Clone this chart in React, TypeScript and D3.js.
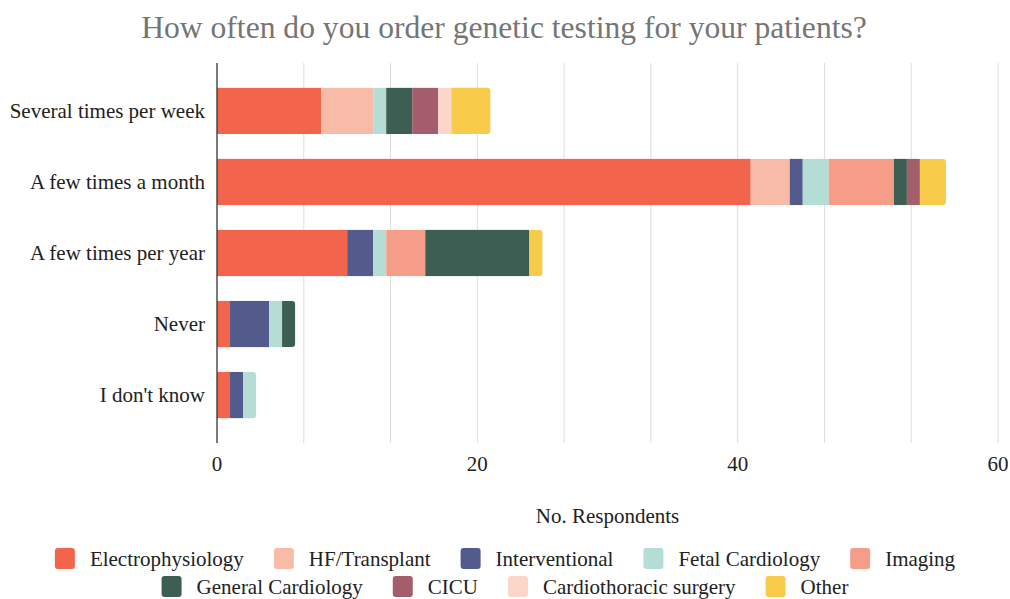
import * as d3 from "d3";
import { useRef, useEffect } from "react";

const categories = [
  "Several times per week",
  "A few times a month",
  "A few times per year",
  "Never",
  "I don't know",
];

const seriesNames = [
  "Electrophysiology",
  "HF/Transplant",
  "Interventional",
  "Fetal Cardiology",
  "Imaging",
  "General Cardiology",
  "CICU",
  "Cardiothoracic surgery",
  "Other",
];

const seriesColors = [
  "#f2644b",
  "#f8bba8",
  "#535b8d",
  "#b4ddd6",
  "#f69d8a",
  "#3d5e52",
  "#a45e6b",
  "#fbd6c9",
  "#f9cb4a",
];

// one array per specialty, in the order of the categories
const electrophysiology = [8, 41, 10, 1, 1];
const hfTransplant = [4, 3, 0, 0, 0];
const interventional = [0, 1, 2, 3, 1];
const fetalCardiology = [1, 2, 1, 1, 1];
const imaging = [0, 5, 3, 0, 0];
const generalCardiology = [2, 1, 8, 1, 0];
const cicu = [2, 1, 0, 0, 0];
const cardiothoracic = [1, 0, 0, 0, 0];
const other = [3, 2, 1, 0, 0];

const seriesValues = [
  electrophysiology,
  hfTransplant,
  interventional,
  fetalCardiology,
  imaging,
  generalCardiology,
  cicu,
  cardiothoracic,
  other,
];

const tickLabels = [0, 20, 40, 60];

const W = 1010;
const H = 599;
const FONT = "Liberation Serif, DejaVu Serif, serif";

const App = () => {
  const ref = useRef(null);

  useEffect(() => {
    const svg = d3.select(ref.current);
    svg.selectAll("*").remove();

    const margin = { top: 63, left: 217, right: 12, bottom: 156 };
    const x = d3.scaleLinear().domain([0, 60]).range([margin.left, W - margin.right]);
    const y = d3
      .scaleBand()
      .domain(categories)
      .range([margin.top, H - margin.bottom])
      .padding(0.35);

    const txt = (sel: any, size: number, fill: string) =>
      sel.style("font-family", FONT).style("font-size", size + "px").attr("fill", fill);

    // title
    txt(
      svg.append("text")
        .attr("x", W / 2 - 1)
        .attr("y", 38)
        .attr("text-anchor", "middle"),
      31.6,
      "#757575"
    ).text("How often do you order genetic testing for your patients?");

    // gridlines
    const grid = d3.range(1, 10).map((i) => (i * 60) / 9);
    svg.append("g")
      .selectAll("line")
      .data(grid)
      .enter()
      .append("line")
      .attr("x1", (d) => x(d))
      .attr("x2", (d) => x(d))
      .attr("y1", margin.top)
      .attr("y2", H - margin.bottom)
      .attr("stroke", "#dedede")
      .attr("stroke-width", 1);

    // stacked bars
    const rows = categories.map((c, i) => {
      const r: any = { cat: c };
      seriesNames.forEach((s, j) => (r[s] = seriesValues[j][i]));
      return r;
    });
    const stacked = d3.stack().keys(seriesNames)(rows);

    const lastIdx = categories.map((_, i) => {
      let last = -1;
      seriesValues.forEach((v, j) => {
        if (v[i] > 0) last = j;
      });
      return last;
    });

    const bh = y.bandwidth();
    stacked.forEach((layer, j) => {
      const g = svg.append("g").attr("fill", seriesColors[j]);
      layer.forEach((d, i) => {
        if (d[1] - d[0] <= 0) return;
        const x0 = x(d[0]);
        const x1 = x(d[1]);
        const y0 = y(categories[i]);
        if (lastIdx[i] === j) {
          const r = 3;
          g.append("path").attr(
            "d",
            `M${x0},${y0}H${x1 - r}Q${x1},${y0} ${x1},${y0 + r}V${y0 + bh - r}Q${x1},${y0 + bh} ${x1 - r},${y0 + bh}H${x0}Z`
          );
        } else {
          g.append("rect")
            .attr("x", x0)
            .attr("y", y0)
            .attr("width", x1 - x0)
            .attr("height", bh);
        }
      });
    });

    // zero axis
    svg.append("line")
      .attr("x1", x(0))
      .attr("x2", x(0))
      .attr("y1", margin.top)
      .attr("y2", H - margin.bottom)
      .attr("stroke", "#333")
      .attr("stroke-width", 1.3);

    // category labels
    txt(
      svg.append("g")
        .selectAll("text")
        .data(categories)
        .enter()
        .append("text")
        .attr("x", margin.left - 12)
        .attr("y", (d) => y(d) + bh / 2)
        .attr("dy", "0.35em")
        .attr("text-anchor", "end"),
      21,
      "#222"
    ).text((d) => d);

    // x tick labels
    txt(
      svg.append("g")
        .selectAll("text")
        .data(tickLabels)
        .enter()
        .append("text")
        .attr("x", (d) => x(d))
        .attr("y", 471)
        .attr("text-anchor", "middle"),
      21,
      "#222"
    ).text((d) => d);

    // axis title
    txt(
      svg.append("text")
        .attr("x", (x(0) + x(60)) / 2)
        .attr("y", 523)
        .attr("text-anchor", "middle"),
      21,
      "#222"
    ).text("No. Respondents");

    // legend, two centered rows
    const legendRows = [seriesNames.slice(0, 5), seriesNames.slice(5)];
    const sw = 20;
    const swGap = 15;
    const itemGap = 30;
    legendRows.forEach((names, ri) => {
      const g = svg.append("g");
      const ly = 558.5 + ri * 28;
      let cx = 0;
      names.forEach((n) => {
        const j = seriesNames.indexOf(n);
        const item = g.append("g").attr("transform", `translate(${cx},0)`);
        item.append("rect")
          .attr("x", 0)
          .attr("y", ly - 10.5)
          .attr("width", sw)
          .attr("height", 21)
          .attr("rx", 3)
          .attr("fill", seriesColors[j]);
        const t = txt(
          item.append("text")
            .attr("x", sw + swGap)
            .attr("y", ly)
            .attr("dy", "0.35em"),
          21,
          "#222"
        ).text(n);
        const tw = (t.node() as SVGTextElement).getComputedTextLength();
        cx += sw + swGap + tw + itemGap;
      });
      const total = cx - itemGap;
      g.attr("transform", `translate(${(W - total) / 2},0)`);
    });
  }, []);

  return (
    <svg
      ref={ref}
      width={W}
      height={H}
      style={{ position: "absolute", left: 0, top: 0, background: "#fff" }}
    />
  );
};

export default App;
